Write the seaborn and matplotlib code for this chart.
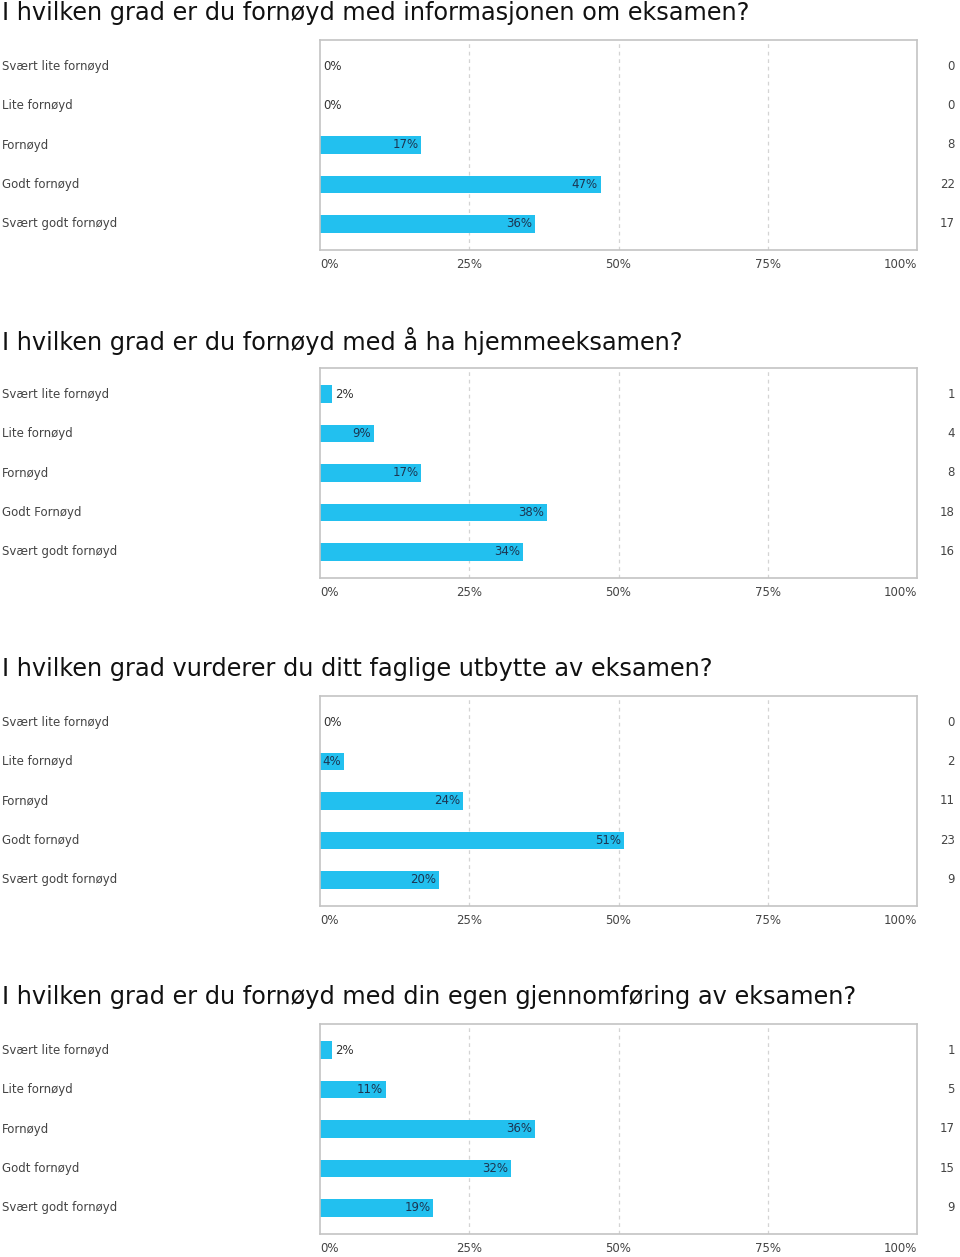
import matplotlib
matplotlib.use("Agg")
import matplotlib.pyplot as plt
import seaborn as sns
import pandas as pd

sns.set_theme(style="white")
plt.rcParams['font.family'] = ['DejaVu Sans']

titles = [
    "I hvilken grad er du fornøyd med informasjonen om eksamen?",
    "I hvilken grad er du fornøyd med å ha hjemmeeksamen?",
    "I hvilken grad vurderer du ditt faglige utbytte av eksamen?",
    "I hvilken grad er du fornøyd med din egen gjennomføring av eksamen?",
]
cats_a = ["Svært lite fornøyd", "Lite fornøyd", "Fornøyd", "Godt fornøyd", "Svært godt fornøyd"]
cats_b = ["Svært lite fornøyd", "Lite fornøyd", "Fornøyd", "Godt Fornøyd", "Svært godt fornøyd"]
categories = [cats_a, cats_b, cats_a, cats_a]

pct1 = [0, 0, 17, 47, 36]
pct2 = [2, 9, 17, 38, 34]
pct3 = [0, 4, 24, 51, 20]
pct4 = [2, 11, 36, 32, 19]
percents = [pct1, pct2, pct3, pct4]

cnt1 = [0, 0, 8, 22, 17]
cnt2 = [1, 4, 8, 18, 16]
cnt3 = [0, 2, 11, 23, 9]
cnt4 = [1, 5, 17, 15, 9]
counts = [cnt1, cnt2, cnt3, cnt4]

xticks = [0, 25, 50, 75, 100]
xtick_labels = ["0%", "25%", "50%", "75%", "100%"]

W, H = 960, 1257
fig = plt.figure(figsize=(W / 100, H / 100), dpi=100)
BAR = "#22c0ef"
AX_L, AX_R = 320, 917
STEP = 328

for i in range(4):
    top = 40 + STEP * i
    bottom = 250 + STEP * i
    ax = fig.add_axes([AX_L / W, 1 - bottom / H, (AX_R - AX_L) / W, (bottom - top) / H])
    df = pd.DataFrame({"cat": categories[i], "pct": percents[i]})
    sns.barplot(data=df, y="cat", x="pct", orient="h", color=BAR, saturation=1,
                width=0.45, ax=ax, linewidth=0)
    ax.set_xlim(0, 100)
    ax.set_ylim(4.66, -0.66)
    ax.set_xlabel("")
    ax.set_ylabel("")
    ax.set_yticks([])
    ax.set_xticks(xticks)
    ax.set_xticklabels(xtick_labels, fontsize=8.5, color="#444444")
    labs = ax.get_xticklabels()
    labs[0].set_ha("left")
    labs[-1].set_ha("right")
    ax.tick_params(axis="x", length=0, pad=6)
    for g in [25, 50, 75]:
        ax.axvline(g, color="#d4d4d4", lw=0.9, ls=(0, (3, 3)), zorder=0)
    for s in ax.spines.values():
        s.set_color("#c4c4c4")
        s.set_linewidth(1.2)
    ytr = ax.get_yaxis_transform()
    for j, (c, p, n) in enumerate(zip(categories[i], percents[i], counts[i])):
        ax.text(-(AX_L - 2) / (AX_R - AX_L), j, c, transform=ytr, ha="left", va="center",
                fontsize=8.5, color="#444444")
        ax.text((955 - AX_L) / (AX_R - AX_L), j, str(n), transform=ytr, ha="right",
                va="center", fontsize=8.5, color="#444444")
        if p == 0:
            ax.text(0.5, j, f"{p}%", ha="left", va="center", fontsize=8.5, color="#333333")
        elif p < 3:
            ax.text(p + 0.6, j, f"{p}%", ha="left", va="center", fontsize=8.5, color="#333333")
        else:
            ax.text(p - 0.5, j, f"{p}%", ha="right", va="center", fontsize=8.5, color="#1c3552")
    fig.text(2 / W, 1 - (13 + STEP * i) / H, titles[i], ha="left", va="center",
             fontsize=17.3, color="#111111")

fig.savefig("out.png", dpi=100, facecolor="white")
